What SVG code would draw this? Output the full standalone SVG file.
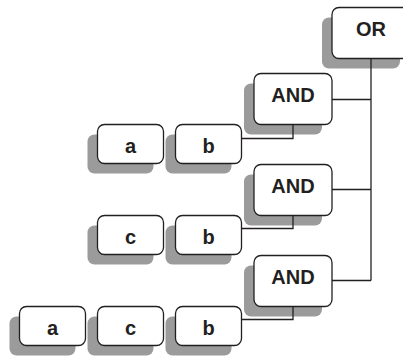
<svg xmlns="http://www.w3.org/2000/svg" width="403" height="357" viewBox="0 0 403 357">
  <style>
    .shadow { fill: #9b9b9b; }
    .box { fill: #ffffff; stroke: #231f20; stroke-width: 1.3; }
    .label { font-family: "Liberation Sans", Arial, sans-serif; font-weight: bold; font-size: 20px; fill: #231f20; text-anchor: middle; }
    .wire { fill: none; stroke: #231f20; stroke-width: 1.3; }
  </style>
  <rect width="403" height="357" fill="#ffffff"/>

  <!-- root -->
  <g id="or">
    <rect class="shadow" x="322" y="17.5" width="78" height="51" rx="7"/>
    <rect class="box" x="332" y="7.5" width="78" height="51" rx="7"/>
    <text class="label" x="371" y="36">OR</text>
  </g>

  <!-- AND nodes -->
  <g id="and1">
    <rect class="shadow" x="244" y="83.5" width="78" height="51" rx="7"/>
    <rect class="box" x="254" y="73.5" width="78" height="51" rx="7"/>
    <text class="label" x="293" y="102">AND</text>
  </g>
  <g id="and2">
    <rect class="shadow" x="244" y="174.5" width="78" height="51" rx="7"/>
    <rect class="box" x="254" y="164.5" width="78" height="51" rx="7"/>
    <text class="label" x="293" y="193">AND</text>
  </g>
  <g id="and3">
    <rect class="shadow" x="244" y="265.5" width="78" height="51" rx="7"/>
    <rect class="box" x="254" y="255.5" width="78" height="51" rx="7"/>
    <text class="label" x="293" y="284">AND</text>
  </g>

  <!-- leaves, row 1 -->
  <g id="r1-a">
    <rect class="shadow" x="87.5" y="134.5" width="66" height="39" rx="7"/>
    <rect class="box" x="97.5" y="124.5" width="66" height="39" rx="7"/>
    <text class="label" x="130.5" y="153">a</text>
  </g>
  <g id="r1-b">
    <rect class="shadow" x="165.5" y="134.5" width="66" height="39" rx="7"/>
    <rect class="box" x="175.5" y="124.5" width="66" height="39" rx="7"/>
    <text class="label" x="208.5" y="153">b</text>
  </g>

  <!-- leaves, row 2 -->
  <g id="r2-c">
    <rect class="shadow" x="87.5" y="225.5" width="66" height="39" rx="7"/>
    <rect class="box" x="97.5" y="215.5" width="66" height="39" rx="7"/>
    <text class="label" x="130.5" y="244">c</text>
  </g>
  <g id="r2-b">
    <rect class="shadow" x="165.5" y="225.5" width="66" height="39" rx="7"/>
    <rect class="box" x="175.5" y="215.5" width="66" height="39" rx="7"/>
    <text class="label" x="208.5" y="244">b</text>
  </g>

  <!-- leaves, row 3 -->
  <g id="r3-a">
    <rect class="shadow" x="9.5" y="316.5" width="66" height="39" rx="7"/>
    <rect class="box" x="19.5" y="306.5" width="66" height="39" rx="7"/>
    <text class="label" x="52.5" y="335">a</text>
  </g>
  <g id="r3-c">
    <rect class="shadow" x="87.5" y="316.5" width="66" height="39" rx="7"/>
    <rect class="box" x="97.5" y="306.5" width="66" height="39" rx="7"/>
    <text class="label" x="130.5" y="335">c</text>
  </g>
  <g id="r3-b">
    <rect class="shadow" x="165.5" y="316.5" width="66" height="39" rx="7"/>
    <rect class="box" x="175.5" y="306.5" width="66" height="39" rx="7"/>
    <text class="label" x="208.5" y="335">b</text>
  </g>

  <!-- connectors -->
  <g id="connectors">
    <path class="wire" d="M371 58.5 V280.5"/>
    <path class="wire" d="M332 99.5 H371"/>
    <path class="wire" d="M332 189.5 H371"/>
    <path class="wire" d="M332 280.5 H371"/>
    <path class="wire" d="M293 124.5 V138.5 H241.5"/>
    <path class="wire" d="M293 215.5 V228.5 H241.5"/>
    <path class="wire" d="M293 306.5 V319.5 H241.5"/>
  </g>
</svg>
